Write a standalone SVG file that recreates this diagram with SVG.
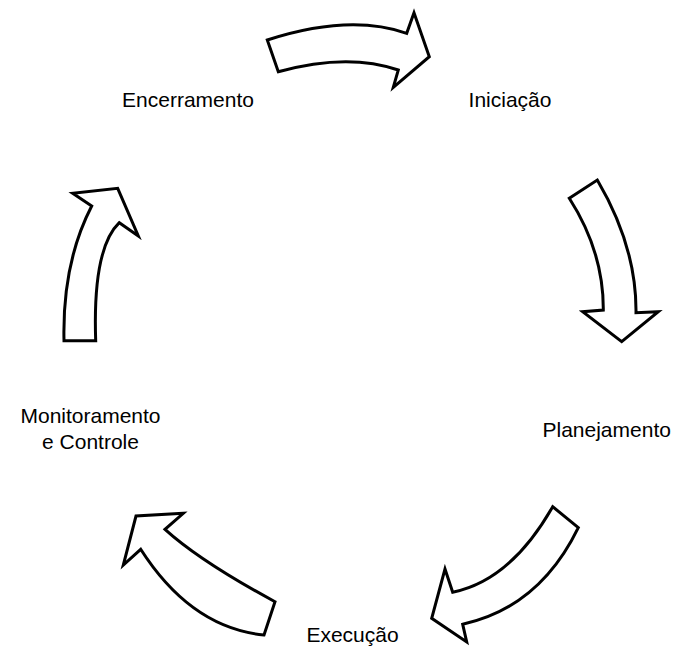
<svg xmlns="http://www.w3.org/2000/svg" width="681" height="648" viewBox="0 0 681 648">
<style>
.arrow{fill:#fff;stroke:#000;stroke-width:3;stroke-linejoin:miter}
.lbl{font-family:"Liberation Sans",Arial,sans-serif;font-size:21px;fill:#000;text-anchor:middle}
</style>
<rect width="681" height="648" fill="#fff"/>
<g id="connectors">
<path class="arrow" d="M267.3,40 Q349.6,13.35 406.7,33.3 L414,12.7 L429.3,56.7 L393.3,87.3 L398.3,70 Q347.7,52.55 278.3,71.7 Z"/>
<path class="arrow" d="M569.3,198.3 L597.3,180 Q636.75,247.05 636,312.7 L658.3,311.7 L621.7,341.7 L582.7,311.7 L603.3,310 Q603.7,251.85 569.3,198.3 Z"/>
<path class="arrow" d="M552.7,506.7 L578.3,527.7 Q539.5,607.4 462.7,624.3 L466.7,642 L431.7,618.3 L445,569 L452.7,592.3 Q510.7,580.5 552.7,506.7 Z"/>
<path class="arrow" d="M264,635 L275,601.7 Q200,561.1 165,529.3 L183.3,513.3 L136,516 L123.3,565 L140.7,549.3 Q191.05,627.85 264,635 Z"/>
<path class="arrow" d="M64,340.7 L95.7,340.7 Q92.5,248.3 119.3,222.7 L138.3,236 L117.7,188.3 L72.7,193.3 L91.7,206 Q62.15,263.25 64,340.7 Z"/>
</g>
<g id="iniciacao"><text class="lbl" x="510" y="106.7">Iniciação</text></g>
<g id="planejamento"><text class="lbl" x="606.7" y="436.7">Planejamento</text></g>
<g id="execucao"><text class="lbl" x="352.5" y="641.7">Execução</text></g>
<g id="monitoramento"><text class="lbl" x="90.5" y="423.3">Monitoramento</text><text class="lbl" x="90.5" y="448.5">e Controle</text></g>
<g id="encerramento"><text class="lbl" x="188" y="106.7">Encerramento</text></g>
</svg>
